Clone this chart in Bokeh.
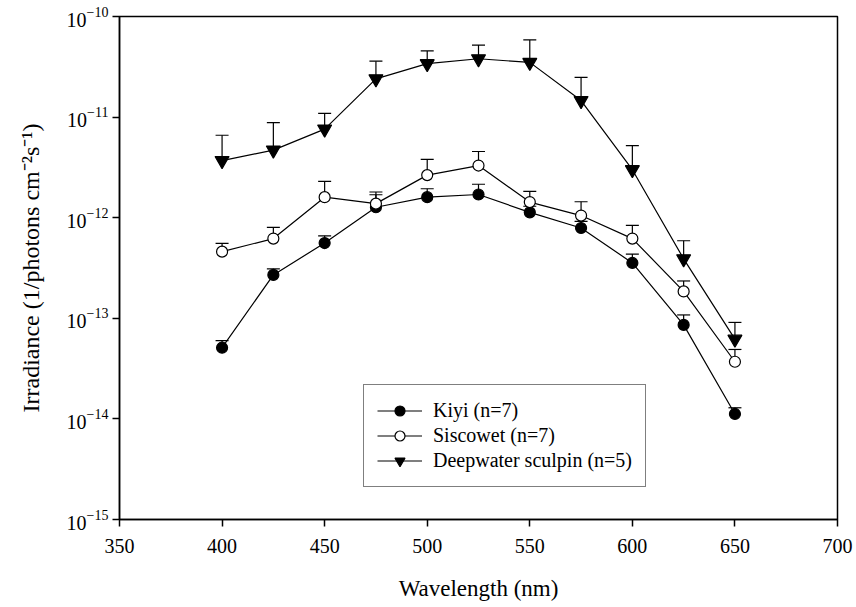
from bokeh.plotting import figure
from bokeh.models import ColumnDataSource, Whisker, TeeHead, FixedTicker, Range1d, Legend, LegendItem
from bokeh.embed import file_html
from bokeh.resources import INLINE

wavelength = [400, 425, 450, 475, 500, 525, 550, 575, 600, 625, 650]

kiyi = [5.1e-14, 2.7e-13, 5.6e-13, 1.27e-12, 1.6e-12, 1.7e-12, 1.13e-12, 7.9e-13, 3.55e-13, 8.6e-14, 1.12e-14]
kiyi_upper = [6.0e-14, 3.1e-13, 6.6e-13, 1.69e-12, 1.94e-12, 2.15e-12, 1.3e-12, 9.2e-13, 4.35e-13, 1.08e-13, 1.29e-14]

siscowet = [4.6e-13, 6.2e-13, 1.6e-12, 1.38e-12, 2.65e-12, 3.3e-12, 1.43e-12, 1.05e-12, 6.2e-13, 1.85e-13, 3.7e-14]
siscowet_upper = [5.55e-13, 8.0e-13, 2.3e-12, 1.8e-12, 3.8e-12, 4.55e-12, 1.83e-12, 1.44e-12, 8.4e-13, 2.35e-13, 4.9e-14]

sculpin = [3.7e-12, 4.7e-12, 7.6e-12, 2.4e-11, 3.4e-11, 3.8e-11, 3.5e-11, 1.46e-11, 3.0e-12, 3.9e-13, 6.2e-14]
sculpin_upper = [6.6e-12, 8.8e-12, 1.09e-11, 3.6e-11, 4.55e-11, 5.2e-11, 5.85e-11, 2.48e-11, 5.2e-12, 5.9e-13, 9.1e-14]

x_ticks = [350, 400, 450, 500, 550, 600, 650, 700]
y_ticks = [1e-15, 1e-14, 1e-13, 1e-12, 1e-11, 1e-10]

labels = ["Kiyi (n=7)", "Siscowet (n=7)", "Deepwater sculpin (n=5)"]

FONT = "Liberation Serif"

p = figure(width=856, height=607, output_backend="svg", toolbar_location=None,
           y_axis_type="log", x_range=Range1d(350, 700), y_range=Range1d(1e-15, 1e-10),
           min_border_left=119, min_border_right=19, min_border_top=16, min_border_bottom=88)
p.frame_width = 718
p.frame_height = 503

p.xgrid.visible = False
p.ygrid.visible = False
p.outline_line_color = "black"
p.outline_line_width = 1.5
p.background_fill_color = "white"
p.border_fill_color = "white"

for ax in (p.xaxis[0], p.yaxis[0]):
    ax.axis_line_width = 1.5
    ax.axis_line_color = "black"
    ax.major_tick_line_width = 1.5
    ax.major_tick_out = 7
    ax.major_tick_in = 0
    ax.minor_tick_out = 0
    ax.minor_tick_in = 0
    ax.major_label_text_font = FONT
    ax.major_label_text_font_size = "20px"
    ax.major_label_text_color = "black"
    ax.axis_label_text_font = FONT
    ax.axis_label_text_font_style = "normal"
    ax.axis_label_text_color = "black"

p.xaxis.axis_label_text_font_size = "23px"
p.yaxis.axis_label_text_font_size = "24px"
p.xaxis.ticker = FixedTicker(ticks=x_ticks)
p.yaxis.ticker = FixedTicker(ticks=y_ticks)
p.xaxis.major_label_standoff = 12
p.yaxis.major_label_standoff = 4
p.xaxis.axis_label = "Wavelength (nm)"
p.yaxis.axis_label = "Irradiance (1/photons cm\u207b\u00b2s\u207b\u00b9)"
p.xaxis.axis_label_standoff = 20
p.yaxis.axis_label_standoff = 20

series = [
    (kiyi, kiyi_upper, "circle", "black", 11),
    (siscowet, siscowet_upper, "circle", "white", 11),
    (sculpin, sculpin_upper, "inverted_triangle", "black", 14),
]

items = []
for (vals, upper, marker, fill, size), lab in zip(series, labels):
    src = ColumnDataSource(dict(x=wavelength, y=vals, upper=upper))
    w = Whisker(source=src, base="x", upper="upper", lower="y",
                line_color="black", line_width=1.2,
                upper_head=TeeHead(size=13, line_color="black", line_width=1.2),
                lower_head=None)
    p.add_layout(w)
    r1 = p.line("x", "y", source=src, line_color="black", line_width=1.2)
    r2 = p.scatter("x", "y", source=src, marker=marker, size=size,
                   fill_color=fill, line_color="black", line_width=1.2)
    items.append(LegendItem(label=lab, renderers=[r1, r2]))

legend = Legend(items=items, location=(244, 32))
legend.label_text_font = FONT
legend.label_text_font_size = "20px"
legend.label_text_color = "black"
legend.border_line_color = "black"
legend.border_line_width = 1.5
legend.background_fill_color = "white"
legend.background_fill_alpha = 1.0
legend.padding = 13
legend.spacing = 0
legend.margin = 0
legend.label_height = 25
legend.glyph_height = 25
legend.glyph_width = 45
legend.label_standoff = 11
p.add_layout(legend, "center")

open("out.html", "w").write(file_html(p, INLINE))
